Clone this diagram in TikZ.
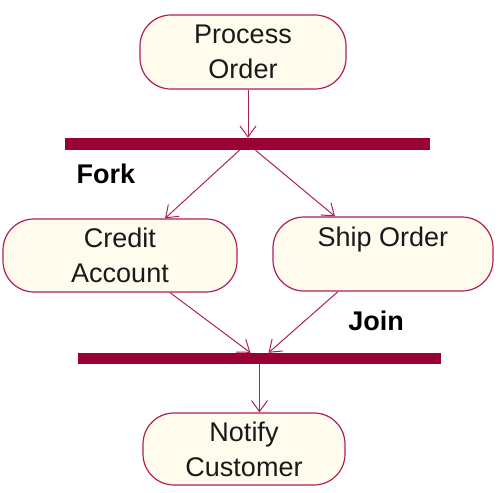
\documentclass[tikz,border=0pt]{standalone}
\usepackage{fontspec}
\setmainfont{Liberation Sans}
\usetikzlibrary{arrows.meta}

\definecolor{umlline}{RGB}{176,32,88}
\definecolor{umlbar}{RGB}{153,0,51}
\definecolor{umlfill}{RGB}{255,252,238}

\begin{document}
\begin{tikzpicture}[
    x=1pt, y=-1pt,
    every node/.style={font=\fontsize{27}{35}\selectfont, text=black!90},
    activity/.style={
        draw=umlline,
        fill=umlfill,
        line width=1.2pt,
        rounded corners=31pt,
        align=center,
        inner sep=0pt
    },
    syncbar/.style={
        fill=umlbar,
        inner sep=0pt
    },
    arrow/.style={
        -{Straight Barb[length=11pt,width=16pt]},
        draw=umlline,
        line width=1pt
    }
]
\useasboundingbox (0,0) rectangle (504,493);

\node[activity, minimum width=206pt, minimum height=74pt] (process) at (243,52) {Process\\Order};
\node[syncbar, minimum width=365pt, minimum height=12pt] (fork) at (247.5,144) {};
\node[font=\fontsize{27}{35}\bfseries, text=black] (forklabel) at (106,174) {Fork};

\node[activity, minimum width=234pt, minimum height=73pt] (credit) at (120,255.5) {Credit\\Account};
\node[activity, minimum width=220pt, minimum height=74pt] (ship) at (383,254) {Ship Order\\~};

\node[font=\fontsize{27}{35}\bfseries, text=black] (joinlabel) at (376,321) {Join};
\node[syncbar, minimum width=363pt, minimum height=11pt] (join) at (259.5,358.5) {};

\node[activity, minimum width=202pt, minimum height=72pt] (notify) at (244,449) {Notify\\Customer};

\draw[arrow] ([xshift=5pt]process.south) -- ([xshift=0.5pt]fork.north);
\draw[arrow] ([xshift=-8pt]fork.south) -- ([xshift=45pt]credit.north);
\draw[arrow] ([xshift=8pt]fork.south) -- ([xshift=-48pt]ship.north);
\draw[arrow] ([xshift=50pt]credit.south) -- ([xshift=-9pt]join.north);
\draw[arrow] ([xshift=-45pt]ship.south) -- ([xshift=9pt]join.north);
\draw[arrow] (join.south) -- ([xshift=15.5pt]notify.north);

\end{tikzpicture}
\end{document}
